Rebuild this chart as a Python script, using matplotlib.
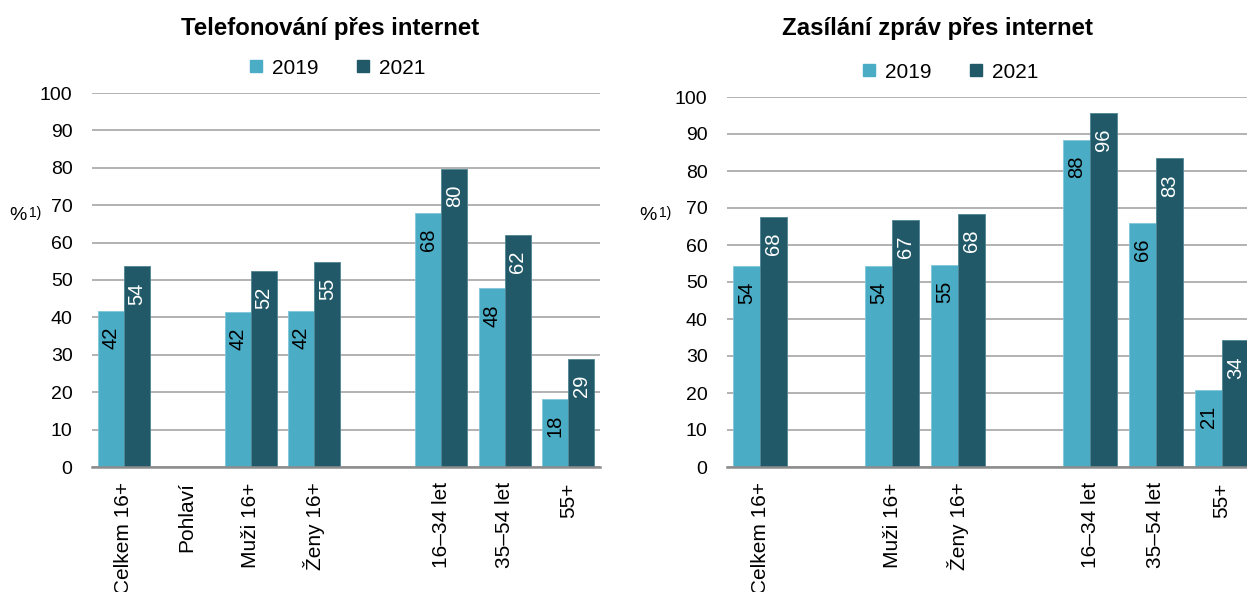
import numpy as np
import matplotlib.pyplot as plt
from matplotlib.patches import Patch

plt.rcParams['font.family'] = ['Liberation Sans', 'DejaVu Sans']

W, H = 1247, 592

# data
cats_left = ["Celkem 16+", "Pohlaví", "Muži 16+", "Ženy 16+", "", "16–34 let", "35–54 let", "55+"]
cats_right = ["Celkem 16+", "", "Muži 16+", "Ženy 16+", "", "16–34 let", "35–54 let", "55+"]
tel_2019 = [41.7, np.nan, 41.5, 41.8, np.nan, 68.0, 47.8, 18.2]
tel_2021 = [53.7, np.nan, 52.4, 54.9, np.nan, 79.8, 62.1, 29.0]
msg_2019 = [54.4, np.nan, 54.3, 54.6, np.nan, 88.4, 66.0, 20.8]
msg_2021 = [67.6, np.nan, 66.8, 68.4, np.nan, 95.8, 83.4, 34.3]
years = ["2019", "2021"]
yticks = list(range(0, 101, 10))

c19 = "#4BACC6"
c21 = "#215968"
grid_c = "#A6A6A6"
fs = 14

fig = plt.figure(figsize=(W / 100, H / 100), dpi=100)
ax1 = fig.add_axes([92 / W, 1 - 467 / H, 508 / W, 374 / H])
ax2 = fig.add_axes([727 / W, 1 - 467 / H, 528 / W, 370 / H])


def draw(ax, cats, v19, v21):
    x = np.arange(len(cats))
    bw = 0.41
    ax.bar(x - bw / 2, v19, bw, color=c19, edgecolor="#7FC6D8", lw=0.6, zorder=2)
    ax.bar(x + bw / 2, v21, bw, color=c21, edgecolor="#4F8593", lw=0.6, zorder=2)
    for xi, a, b in zip(x, v19, v21):
        if not np.isnan(a):
            ax.annotate(f"{a:.0f}", (xi - bw / 2, a), xytext=(0, -11.5), textcoords="offset points",
                        rotation=90, ha="center", va="top", fontsize=14.5, color="black")
        if not np.isnan(b):
            ax.annotate(f"{b:.0f}", (xi + bw / 2, b), xytext=(0, -11.5), textcoords="offset points",
                        rotation=90, ha="center", va="top", fontsize=14.5, color="white")
    ax.set_xlim(-0.5, len(cats) - 0.5)
    ax.set_ylim(0, 100)
    ax.set_yticks(yticks)
    ax.set_xticks(x)
    ax.set_xticklabels(cats, rotation=90, va="top", ha="center")
    ax.tick_params(axis="y", length=0, pad=14, labelsize=fs)
    ax.tick_params(axis="x", length=0, pad=11, labelsize=15)
    ax.grid(axis="y", color=grid_c, lw=1.2, zorder=0)
    for s in ["left", "right", "top"]:
        ax.spines[s].set_visible(False)
    ax.spines["bottom"].set_color("#8C8C8C")
    ax.spines["bottom"].set_linewidth(1.8)
    ax.spines["bottom"].set_zorder(3)


draw(ax1, cats_left, tel_2019, tel_2021)
draw(ax2, cats_right, msg_2019, msg_2021)

fig.text(330 / W, 1 - 28 / H, "Telefonování přes internet", ha="center", va="center",
         fontsize=17.3, fontweight="bold")
fig.text(937 / W, 1 - 29 / H, "Zasílání zpráv přes internet", ha="center", va="center",
         fontsize=17.3, fontweight="bold")

handles = [Patch(color=c19), Patch(color=c21)]
for cx, cy in [(338, 68), (951, 72)]:
    fig.legend(handles, years, loc="center", bbox_to_anchor=(cx / W, 1 - cy / H), ncol=2,
               frameon=False, fontsize=15, handlelength=0.55, handleheight=0.55,
               handletextpad=0.5, columnspacing=1.85)

for px in [9, 639]:
    fig.text(px / W, 1 - 215 / H, "%", ha="left", va="center", fontsize=14)
    fig.text((px + 20) / W, 1 - 213 / H, "1)", ha="left", va="center", fontsize=10)

fig.savefig("out.png", dpi=100)
